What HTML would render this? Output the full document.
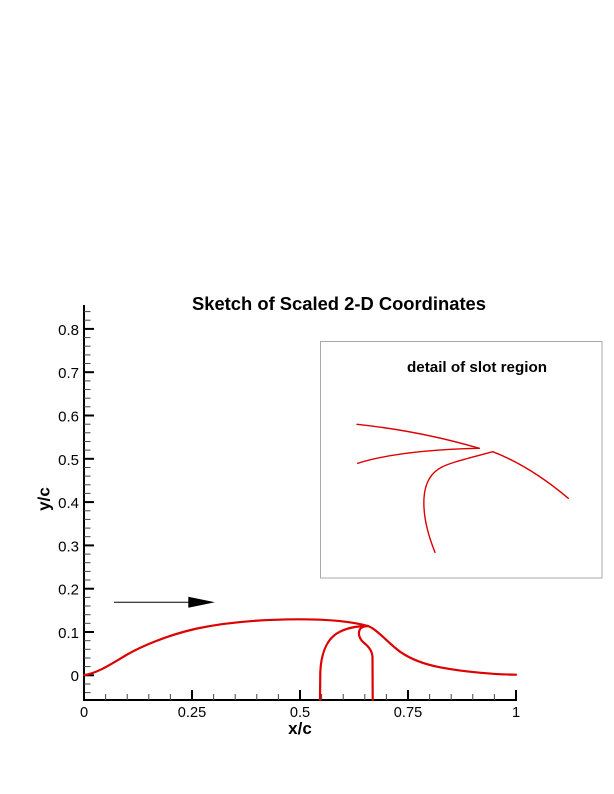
<!DOCTYPE html>
<html>
<head>
<meta charset="utf-8">
<style>
  html, body { margin:0; padding:0; background:#ffffff; }
  svg { display:block; }
  text { font-family: "Liberation Sans", Arial, sans-serif; fill:#000; }
</style>
</head>
<body>
<svg width="614" height="794" viewBox="0 0 614 794" xmlns="http://www.w3.org/2000/svg">
  <rect x="0" y="0" width="614" height="794" fill="#ffffff"/>

  <!-- Title -->
  <text x="339" y="310" font-size="18" font-weight="bold" text-anchor="middle" textLength="294" lengthAdjust="spacingAndGlyphs">Sketch of Scaled 2-D Coordinates</text>

  <!-- Inset box -->
  <rect x="320.5" y="341.5" width="281.5" height="236.5" fill="none" stroke="#a8a8a8" stroke-width="1"/>
  <text x="477" y="372" font-size="15" font-weight="bold" text-anchor="middle" textLength="140" lengthAdjust="spacingAndGlyphs">detail of slot region</text>

  <!-- Inset curves -->
  <g fill="none" stroke="#dd0000" stroke-width="1.4" stroke-linecap="round" stroke-linejoin="round">
    <path d="M357,424.3 Q420,431 479.3,448.3"/>
    <path d="M357.7,463.3 Q400,450 479.3,448.3"/>
    <path d="M435,552.3 C428,535 423,515 424,498 C425,482 432,472 442,467 C452,462 470,458 492.7,451.7 Q530,466 568.3,498.3"/>
  </g>

  <!-- Axes lines -->
  <line x1="84" y1="305" x2="84" y2="701" stroke="#000" stroke-width="2"/>
  <line x1="83" y1="700" x2="517" y2="700" stroke="#000" stroke-width="2"/>

  <!-- Y major ticks -->
  <g stroke="#000" stroke-width="2">
    <line x1="84" y1="675.3" x2="94" y2="675.3"/>
    <line x1="84" y1="632.0" x2="94" y2="632.0"/>
    <line x1="84" y1="588.7" x2="94" y2="588.7"/>
    <line x1="84" y1="545.4" x2="94" y2="545.4"/>
    <line x1="84" y1="502.1" x2="94" y2="502.1"/>
    <line x1="84" y1="458.8" x2="94" y2="458.8"/>
    <line x1="84" y1="415.5" x2="94" y2="415.5"/>
    <line x1="84" y1="372.2" x2="94" y2="372.2"/>
    <line x1="84" y1="328.9" x2="94" y2="328.9"/>
  </g>
  <!-- Y minor ticks -->
  <g stroke="#444" stroke-width="1">
    <line x1="84" y1="692.6" x2="90.5" y2="692.6"/>
    <line x1="84" y1="684.0" x2="90.5" y2="684.0"/>
    <line x1="84" y1="666.6" x2="90.5" y2="666.6"/>
    <line x1="84" y1="658.0" x2="90.5" y2="658.0"/>
    <line x1="84" y1="649.3" x2="90.5" y2="649.3"/>
    <line x1="84" y1="640.7" x2="90.5" y2="640.7"/>
    <line x1="84" y1="623.3" x2="90.5" y2="623.3"/>
    <line x1="84" y1="614.7" x2="90.5" y2="614.7"/>
    <line x1="84" y1="606.0" x2="90.5" y2="606.0"/>
    <line x1="84" y1="597.4" x2="90.5" y2="597.4"/>
    <line x1="84" y1="580.0" x2="90.5" y2="580.0"/>
    <line x1="84" y1="571.4" x2="90.5" y2="571.4"/>
    <line x1="84" y1="562.7" x2="90.5" y2="562.7"/>
    <line x1="84" y1="554.1" x2="90.5" y2="554.1"/>
    <line x1="84" y1="536.7" x2="90.5" y2="536.7"/>
    <line x1="84" y1="528.1" x2="90.5" y2="528.1"/>
    <line x1="84" y1="519.4" x2="90.5" y2="519.4"/>
    <line x1="84" y1="510.8" x2="90.5" y2="510.8"/>
    <line x1="84" y1="493.4" x2="90.5" y2="493.4"/>
    <line x1="84" y1="484.8" x2="90.5" y2="484.8"/>
    <line x1="84" y1="476.1" x2="90.5" y2="476.1"/>
    <line x1="84" y1="467.5" x2="90.5" y2="467.5"/>
    <line x1="84" y1="450.1" x2="90.5" y2="450.1"/>
    <line x1="84" y1="441.5" x2="90.5" y2="441.5"/>
    <line x1="84" y1="432.8" x2="90.5" y2="432.8"/>
    <line x1="84" y1="424.2" x2="90.5" y2="424.2"/>
    <line x1="84" y1="406.8" x2="90.5" y2="406.8"/>
    <line x1="84" y1="398.2" x2="90.5" y2="398.2"/>
    <line x1="84" y1="389.5" x2="90.5" y2="389.5"/>
    <line x1="84" y1="380.9" x2="90.5" y2="380.9"/>
    <line x1="84" y1="363.5" x2="90.5" y2="363.5"/>
    <line x1="84" y1="354.9" x2="90.5" y2="354.9"/>
    <line x1="84" y1="346.2" x2="90.5" y2="346.2"/>
    <line x1="84" y1="337.6" x2="90.5" y2="337.6"/>
    <line x1="84" y1="320.2" x2="90.5" y2="320.2"/>
    <line x1="84" y1="311.6" x2="90.5" y2="311.6"/>
  </g>

  <!-- X major ticks -->
  <g stroke="#000" stroke-width="2">
    <line x1="84" y1="700" x2="84" y2="690"/>
    <line x1="192" y1="700" x2="192" y2="690"/>
    <line x1="300" y1="700" x2="300" y2="690"/>
    <line x1="408" y1="700" x2="408" y2="690"/>
    <line x1="516" y1="700" x2="516" y2="690"/>
  </g>
  <!-- X minor ticks -->
  <g stroke="#444" stroke-width="1">
    <line x1="105.6" y1="700" x2="105.6" y2="694"/>
    <line x1="127.2" y1="700" x2="127.2" y2="694"/>
    <line x1="148.8" y1="700" x2="148.8" y2="694"/>
    <line x1="170.4" y1="700" x2="170.4" y2="694"/>
    <line x1="213.6" y1="700" x2="213.6" y2="694"/>
    <line x1="235.2" y1="700" x2="235.2" y2="694"/>
    <line x1="256.8" y1="700" x2="256.8" y2="694"/>
    <line x1="278.4" y1="700" x2="278.4" y2="694"/>
    <line x1="321.6" y1="700" x2="321.6" y2="694"/>
    <line x1="343.2" y1="700" x2="343.2" y2="694"/>
    <line x1="364.8" y1="700" x2="364.8" y2="694"/>
    <line x1="386.4" y1="700" x2="386.4" y2="694"/>
    <line x1="429.6" y1="700" x2="429.6" y2="694"/>
    <line x1="451.2" y1="700" x2="451.2" y2="694"/>
    <line x1="472.8" y1="700" x2="472.8" y2="694"/>
    <line x1="494.4" y1="700" x2="494.4" y2="694"/>
  </g>

  <!-- Y tick labels -->
  <g font-size="15" text-anchor="end">
    <text x="79" y="681">0</text>
    <text x="79" y="638">0.1</text>
    <text x="79" y="594.7">0.2</text>
    <text x="79" y="551.4">0.3</text>
    <text x="79" y="508.1">0.4</text>
    <text x="79" y="464.8">0.5</text>
    <text x="79" y="421.5">0.6</text>
    <text x="79" y="378.2">0.7</text>
    <text x="79" y="334.9">0.8</text>
  </g>

  <!-- X tick labels -->
  <g font-size="14.6" text-anchor="middle">
    <text x="84" y="717">0</text>
    <text x="192" y="717">0.25</text>
    <text x="300" y="717">0.5</text>
    <text x="408" y="717">0.75</text>
    <text x="516" y="717">1</text>
  </g>

  <!-- Axis titles -->
  <text x="300" y="734" font-size="17" font-weight="bold" text-anchor="middle">x/c</text>
  <text transform="translate(49.5,499) rotate(-90)" x="0" y="0" font-size="17" font-weight="bold" text-anchor="middle">y/c</text>

  <!-- Flow arrow -->
  <line x1="114" y1="602.3" x2="190" y2="602.3" stroke="#000" stroke-width="1"/>
  <polygon points="188.3,596.7 215,602.3 188.3,607.7" fill="#000"/>

  <!-- Main geometry -->
  <g fill="none" stroke="#dd0000" stroke-width="2.2" stroke-linecap="round" stroke-linejoin="round">
    <path d="M84,675 C95,674 108,666 123,657 C140,646.5 168,635 197,628.5 C225,622.6 262,619.5 297,619.3 C325,619.2 350,621 368,626 C378,630 388,643 400,651.7 C412,660 425,664.5 440,667.3 C465,672 495,674.5 516,674.7"/>
    <path d="M320,700 L320.3,672 C321,655 326,641 336,634 C345,628 357,626 368,626"/>
    <path d="M372.7,700 L372.5,657 C372,650 368,646 363,642 C358,637 358,631 361,628 C363,626.5 366,626 368,626"/>
  </g>
</svg>
</body>
</html>
